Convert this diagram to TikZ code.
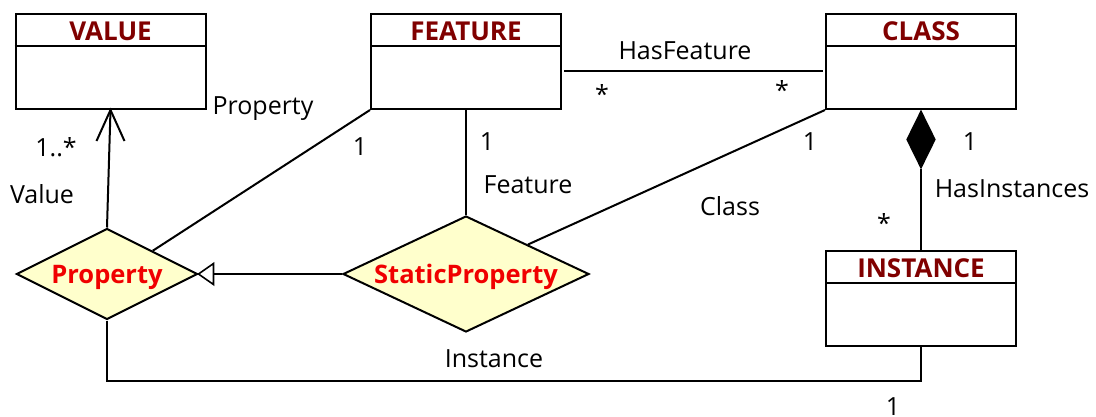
\documentclass[tikz,border=0pt]{standalone}
\usepackage{fontspec}
\setmainfont{Open Sans}
\usetikzlibrary{shapes.geometric}
\definecolor{titlered}{RGB}{128,0,0}
\definecolor{diatext}{RGB}{240,0,0}
\definecolor{diafill}{RGB}{255,255,204}
\begin{document}
\begin{tikzpicture}[x=1pt,y=-1pt,line width=2pt,
  every node/.style={font=\fontsize{25}{29}\selectfont},
  box/.style={draw,rectangle,minimum width=190pt,minimum height=95pt,inner sep=0pt},
  boxtitle/.style={font=\fontsize{26}{30}\selectfont\bfseries,text=titlered,inner sep=0pt},
  rel/.style={draw,diamond,fill=diafill,inner sep=0pt},
  reltext/.style={inner sep=0pt,yshift=-3pt,font=\fontsize{25.5}{30}\selectfont\bfseries,text=diatext},
  lbl/.style={inner sep=0pt}]
\useasboundingbox (0,0) rectangle (1096,416);
% class boxes
\node[box] (value) at (110.5,61.5) {};
\node[box] (feature) at (466,61.5) {};
\node[box] (class) at (921,61.5) {};
\node[box] (instance) at (921,298.5) {};
\node[boxtitle] (valuet) at (110.5,31) {VALUE};
\node[boxtitle] (featuret) at (466,31) {FEATURE};
\node[boxtitle] (classt) at (921,31) {CLASS};
\node[boxtitle] (instancet) at (921,268) {INSTANCE};
\foreach \b in {value,feature,class,instance}
  \draw ([yshift=-33pt]\b.north west) -- ([yshift=-33pt]\b.north east);
% relation diamonds
\node[rel,minimum width=181pt,minimum height=91pt] (property) at (107,274) {};
\node[reltext] (propertyt) at (property.center) {Property};
\node[rel,minimum width=246pt,minimum height=116pt] (static) at (466,274) {};
\node[reltext] (statict) at (static.center) {StaticProperty};
% composition diamond
\node[draw,diamond,fill=black,inner sep=0pt,minimum width=28pt,minimum height=56pt] (comp) at (921,139.5) {};
% connectors
\draw (property.north) -- (value.south);
\draw ([xshift=-14pt,yshift=-31pt]value.south) -- (value.south) -- ([xshift=14pt,yshift=-31pt]value.south);
\draw (static.west) -- ([xshift=15pt]property.east);
\draw[line width=1.6pt,fill=white] (property.east) -- ([xshift=15pt,yshift=10.5pt]property.east) -- ([xshift=15pt,yshift=-10.5pt]property.east) -- cycle;
\draw (property.north east) -- (feature.south west);
\draw (feature.south) -- (static.north);
\draw (static.north east) -- (class.south west);
\draw ([yshift=-9.5pt,xshift=2pt]feature.east) -- ([yshift=-9.5pt,xshift=-2pt]class.west);
\draw (comp.south) -- (instance.north);
\draw (property.south) -- (property.south |- 0,381) -| (instance.south);
% labels
\node[lbl] (l1) at (263,109) {Property};
\node[lbl] (l2) at (56,147) {1..*};
\node[lbl] (l3) at (42,194) {Value};
\node[lbl] (l4) at (360,147) {1};
\node[lbl] (l5) at (487,142) {1};
\node[lbl] (l6) at (528,185) {Feature};
\node[lbl] (l7) at (730,206) {Class};
\node[lbl] (l8) at (810,142) {1};
\node[lbl] (l9) at (685,51) {HasFeature};
\node[lbl] (l10) at (602,94) {*};
\node[lbl] (l11) at (782,90) {*};
\node[lbl] (l12) at (970,142) {1};
\node[lbl] (l13) at (1012,189) {HasInstances};
\node[lbl] (l14) at (884,223) {*};
\node[lbl] (l15) at (494,359) {Instance};
\node[lbl] (l16) at (893,407) {1};
\end{tikzpicture}
\end{document}
